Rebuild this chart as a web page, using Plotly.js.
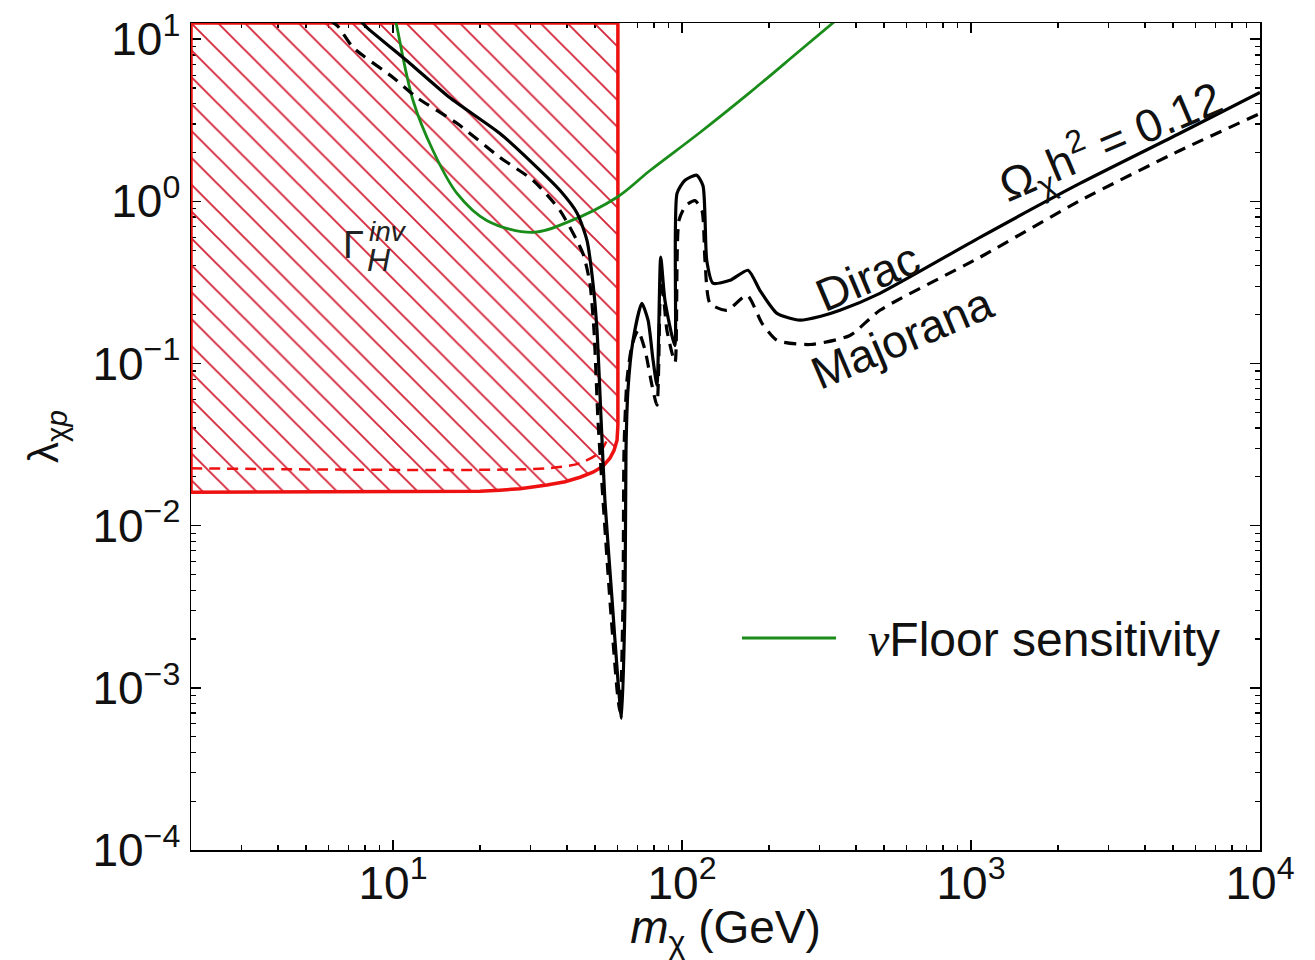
<!DOCTYPE html>
<html>
<head>
<meta charset="utf-8">
<script src="https://cdn.plot.ly/plotly-3.0.1.min.js"></script>
<style>html,body{margin:0;padding:0;background:#fff;}#chart{width:1315px;height:960px;}</style>
</head>
<body>
<div id="chart"></div>
<script>
// ---- data ----
const massDirac = [7.7, 8.13, 11.45, 15.7, 23.4, 30.5, 37.8, 43.4, 46.9, 49.2, 50.8, 52.5, 54.1, 57.3, 60.0, 61.8,
  63.5, 64.0, 65.0, 67.7, 72.6, 76.3, 79.4, 81.9, 84.4, 87.3, 94.4, 96.1, 102.4, 112.4, 118.2, 121.8, 128.0,
  146.6, 169.2, 186.2, 213.2, 255.9, 300, 352, 484, 1074, 2382, 5284, 10000];
const lamDirac = [13.0, 11.8, 7.09, 4.37, 2.63, 1.71, 1.17, 0.843, 0.575, 0.313, 0.160, 0.0447, 0.01435, 0.00348, 0.00112, 0.00065,
  0.00348, 0.0292, 0.0684, 0.139, 0.235, 0.185, 0.105, 0.0735, 0.454, 0.245, 0.129, 1.12, 1.35, 1.45, 1.25, 0.432, 0.313,
  0.326, 0.376, 0.282, 0.204, 0.185, 0.195, 0.213, 0.271, 0.600, 1.29, 2.63, 4.70];

const massMajorana = [6.05, 6.45, 7.27, 10.0, 12.1, 16.65, 23.4, 30.5, 37.8, 45.4, 48.0, 49.6, 51.2, 53.3, 56.3, 59.6, 61.0,
  62.5, 63.0, 64.5, 67.1, 70.4, 74.5, 78.7, 81.9, 84.6, 88.7, 94.6, 97.6, 103.2, 110.9, 117.2, 120.1, 125.0,
  143.1, 167.9, 189.2, 213.2, 277.3, 381, 484, 1074, 2382, 5284, 10000];
const lamMajorana = [13.1, 12.0, 8.9, 5.81, 4.37, 3.03, 1.87, 1.35, 0.880, 0.478, 0.313, 0.160, 0.0447, 0.01435, 0.00348, 0.00097, 0.00071,
  0.00348, 0.0292, 0.0789, 0.129, 0.160, 0.121, 0.0735, 0.0553, 0.376, 0.160, 0.102, 0.763, 0.945, 1.01, 0.880, 0.432, 0.235,
  0.213, 0.264, 0.177, 0.139, 0.131, 0.149, 0.213, 0.452, 1.01, 2.06, 3.48];

const massNuFloor = [10.1, 10.24, 11.73, 13.75, 16.65, 21.1, 30.5, 40.0, 59.6, 77.5, 115.4, 171.9, 256, 346.7];
const lamNuFloor = [14.0, 12.7, 4.19, 2.06, 1.12, 0.763, 0.644, 0.742, 1.06, 1.55, 2.66, 4.70, 8.52, 13.4];

// invisible Higgs width bound (hatched region, solid boundary)
const massInvH = [2, 15.7, 20.0, 23.4, 27.5, 34.1, 39.4, 44.4, 49.2, 53.3, 56.3, 58.2, 59.6, 60.0, 60.0, 2, 2];
const lamInvH = [0.0161, 0.0162, 0.0163, 0.01655, 0.0169, 0.0178, 0.01867, 0.0199, 0.02137, 0.02326, 0.02606, 0.0292, 0.0337, 0.0416, 12.59, 12.59, 0.0161];
// dashed boundary
const massInvHDash = [2, 34.1, 44.4, 52.0, 55.0];
const lamInvHDash = [0.0226, 0.0226, 0.0243, 0.0284, 0.0337];

const yTickVals = [1e-4, 1e-3, 1e-2, 1e-1, 1, 10];
const yTickText = ['10<sup>\u22124</sup>', '10<sup>\u22123</sup>', '10<sup>\u22122</sup>', '10<sup>\u22121</sup>', '10<sup>0</sup>', '10<sup>1</sup>'];
const xTickVals = [10, 100, 1000, 10000];
const xTickText = ['10<sup>1</sup>', '10<sup>2</sup>', '10<sup>3</sup>', '10<sup>4</sup>'];

// ---- build ----
function minorTicks(lo, hi) {
  const out = [];
  for (let e = lo; e < hi; e++) for (let k = 2; k <= 9; k++) out.push(k * Math.pow(10, e));
  return out;
}
const FONT = 'Liberation Sans, Arial, Helvetica, sans-serif';
const FS = 46;

const traces = [
  {x: massInvH, y: lamInvH, mode: 'lines', fill: 'toself', fillcolor: 'rgba(255,255,255,0)',
   fillpattern: {shape: '\\', size: 19, solidity: 0.1, fgcolor: '#d4263a', bgcolor: 'rgba(255,255,255,0)', fillmode: 'replace'},
   line: {color: '#ee1111', width: 3.5}, hoverinfo: 'skip', showlegend: false},
  {x: massInvHDash, y: lamInvHDash, mode: 'lines', line: {color: '#ee1111', width: 2.5, dash: '11px,7px', shape: 'spline', smoothing: 0.8}, showlegend: false},
  {x: massNuFloor, y: lamNuFloor, mode: 'lines', line: {color: '#1a8c1a', width: 2.8, shape: 'spline', smoothing: 1}, name: '\u03bdFloor sensitivity', showlegend: false},
  {x: massMajorana, y: lamMajorana, mode: 'lines', line: {color: '#000', width: 3.2, dash: '12px,8px', shape: 'spline', smoothing: 0.6}, name: 'Majorana', showlegend: false},
  {x: massDirac, y: lamDirac, mode: 'lines', line: {color: '#000', width: 3.2, shape: 'spline', smoothing: 0.6}, name: 'Dirac', showlegend: false}
];

const axisCommon = {
  type: 'log', showgrid: false, zeroline: false, showline: true, linecolor: '#000', linewidth: 1.5,
  mirror: 'ticks', ticks: 'inside', ticklen: 10, tickwidth: 1.5, tickcolor: '#000',
  tickmode: 'array', layer: 'below traces',
  tickfont: {family: FONT, size: FS, color: '#111'}
};

const layout = {
  width: 1315, height: 960,
  margin: {l: 191, r: 55, t: 23, b: 110},
  paper_bgcolor: '#fff', plot_bgcolor: '#fff',
  showlegend: false,
  xaxis: Object.assign({}, axisCommon, {
    range: [Math.log10(2), 4], tickvals: xTickVals, ticktext: xTickText, ticklabelstandoff: -8,
    minor: {tickmode: 'array', tickvals: minorTicks(0, 4), ticks: 'inside', ticklen: 5, tickwidth: 1.2, tickcolor: '#000'},
    title: {text: '<i>m</i><sub>\u03c7</sub> (GeV)', font: {family: FONT, size: FS, color: '#111'}, standoff: 12}
  }),
  yaxis: Object.assign({}, axisCommon, {
    range: [-4, 1.1], tickvals: yTickVals, ticktext: yTickText, ticklabelstandoff: 0,
    minor: {tickmode: 'array', tickvals: minorTicks(-4, 1), ticks: 'inside', ticklen: 5, tickwidth: 1.2, tickcolor: '#000'},
    title: {text: '\u03bb<sub>\u03c7<i>p</i></sub>', font: {family: FONT, size: 42, color: '#111'}, standoff: 20}
  }),
  shapes: [
    {type: 'line', xref: 'paper', yref: 'paper', x0: 0.5154, x1: 0.6034, y0: 0.2564, y1: 0.2564,
     line: {color: '#1a8c1a', width: 3}}
  ],
  annotations: [
    {xref: 'paper', yref: 'paper', x: 0.6314, y: 0.254, xanchor: 'left', yanchor: 'middle', showarrow: false,
     text: '<i style="font-family:Liberation Serif">\u03bd</i>Floor sensitivity', font: {family: FONT, size: 48, color: '#111'}},
    {xref: 'paper', yref: 'paper', x: 0.6324, y: 0.6929, xanchor: 'center', yanchor: 'middle', showarrow: false,
     text: 'Dirac', textangle: -23, font: {family: FONT, size: FS, color: '#111'}},
    {xref: 'paper', yref: 'paper', x: 0.6651, y: 0.6191, xanchor: 'center', yanchor: 'middle', showarrow: false,
     text: 'Majorana', textangle: -23, font: {family: FONT, size: FS, color: '#111'}},
    {xref: 'paper', yref: 'paper', x: 0.8606, y: 0.8573, xanchor: 'center', yanchor: 'middle', showarrow: false,
     text: '\u03a9<sub>\u03c7</sub>h<sup>2</sup> = 0.12', textangle: -23, font: {family: FONT, size: FS, color: '#111'}},
    {xref: 'paper', yref: 'paper', x: (353 - 191) / 1069, y: (850 - 245) / 827, xanchor: 'center', yanchor: 'middle', showarrow: false,
     text: '\u0393', font: {family: FONT, size: 38, color: '#222'}},
    {xref: 'paper', yref: 'paper', x: (388 - 191) / 1069, y: (850 - 231) / 827, xanchor: 'center', yanchor: 'middle', showarrow: false,
     text: '<i>inv</i>', font: {family: FONT, size: 28, color: '#222'}},
    {xref: 'paper', yref: 'paper', x: (379 - 191) / 1069, y: (850 - 260) / 827, xanchor: 'center', yanchor: 'middle', showarrow: false,
     text: '<i>H</i>', font: {family: FONT, size: 32, color: '#222'}}
  ]
};

Plotly.newPlot('chart', traces, layout, {staticPlot: true, displayModeBar: false});
</script>
</body>
</html>
